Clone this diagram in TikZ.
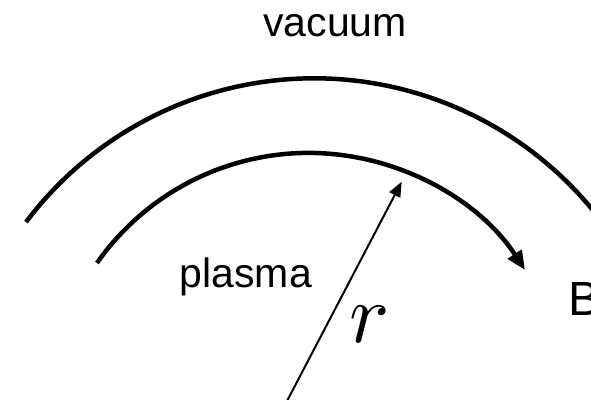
\documentclass[tikz,border=0pt]{standalone}
\usepackage{fontspec}
\newfontfamily\arialfont{Liberation Sans}
\usetikzlibrary{arrows.meta}
\tikzset{
  thickarc/.style={line width=4.5pt, black},
  radiusarrow/.style={line width=2pt, black, -{Triangle[length=15pt,width=12pt]}},
  lbl/.style={inner sep=0pt, anchor=base west, font=\arialfont\fontsize{41}{41}\selectfont},
}
\begin{document}
\begin{tikzpicture}[x=1pt,y=1pt]
\useasboundingbox (0,0) rectangle (591,399);
\clip (0,0) rectangle (591,399);
% outer arc (vacuum boundary)
\draw[thickarc] ([shift={(314.1,-39.8)}]143.04:360.5) arc[start angle=143.04, end angle=34, radius=360.5];
% inner arc (field line, with arrow)
\draw[thickarc, -{Triangle[length=19pt,width=16pt]}] ([shift={(308.6,-12.4)}]144.96:258.5) arc[start angle=144.96, end angle=33.16, radius=258.5];
% radius arrow
\coordinate (rb) at (286.5,-3);
\coordinate (rt) at (401.7,217.3);
\draw[radiusarrow] (rb) -- (rt);
% labels
\node[lbl] (vac) at (263,362.3) {vacuum};
\node[lbl] (pla) at (179.5,112) {plasma};
\node[inner sep=0pt, anchor=base west] (r) at (349,56) {\scalebox{8.4}{$r$}};
\node[inner sep=0pt, anchor=base west, font=\arialfont\fontsize{48}{48}\selectfont] (B) at (568.5,84) {B};
\end{tikzpicture}
\end{document}
